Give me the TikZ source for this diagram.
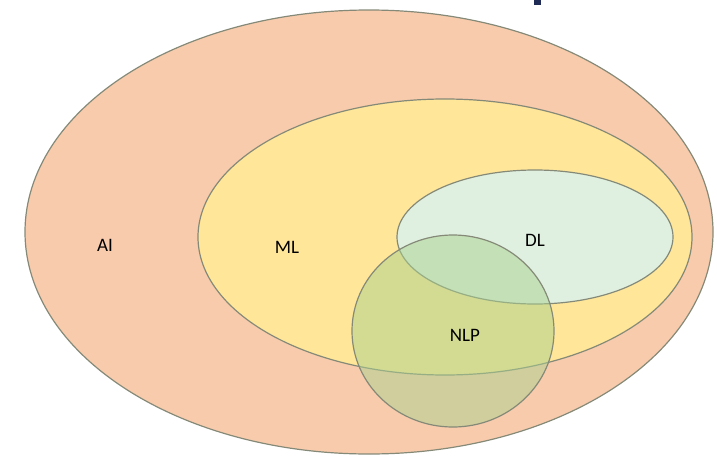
\documentclass[tikz,border=0pt]{standalone}
\usepackage{fontspec}
\setmainfont{Carlito}
\usepackage{xcolor}
\definecolor{aifill}{HTML}{F8CBAD}
\definecolor{mlfill}{HTML}{FFE699}
\definecolor{dlfill}{HTML}{E0F0E0}
\definecolor{nlpfill}{HTML}{A9D18E}
\definecolor{rim}{HTML}{858A78}
\definecolor{titleblue}{HTML}{1F2A55}
\begin{document}
\begin{tikzpicture}[x=1pt,y=-1pt]
\tikzstyle{every node}+=[inner sep=0pt, font=\fontsize{19}{22}\selectfont]
\tikzstyle{venn}=[draw=rim, line width=1.2pt]
\useasboundingbox (0,0) rectangle (717,463);
\fill [titleblue] (534,0) rectangle (541,5);
\draw [venn, fill=aifill] (369,232) ellipse (344 and 222);
\draw [venn, fill=mlfill] (445,237) ellipse (247 and 138);
\draw [venn, fill=dlfill] (535,237) ellipse (138 and 67);
\draw [venn, fill=nlpfill, fill opacity=0.5] (453,331) ellipse (101 and 96);
\draw (105,245) node (ai) {AI};
\draw (287,247) node (ml) {ML};
\draw (535,240) node (dl) {DL};
\draw (465,335) node (nlp) {NLP};
\end{tikzpicture}
\end{document}
